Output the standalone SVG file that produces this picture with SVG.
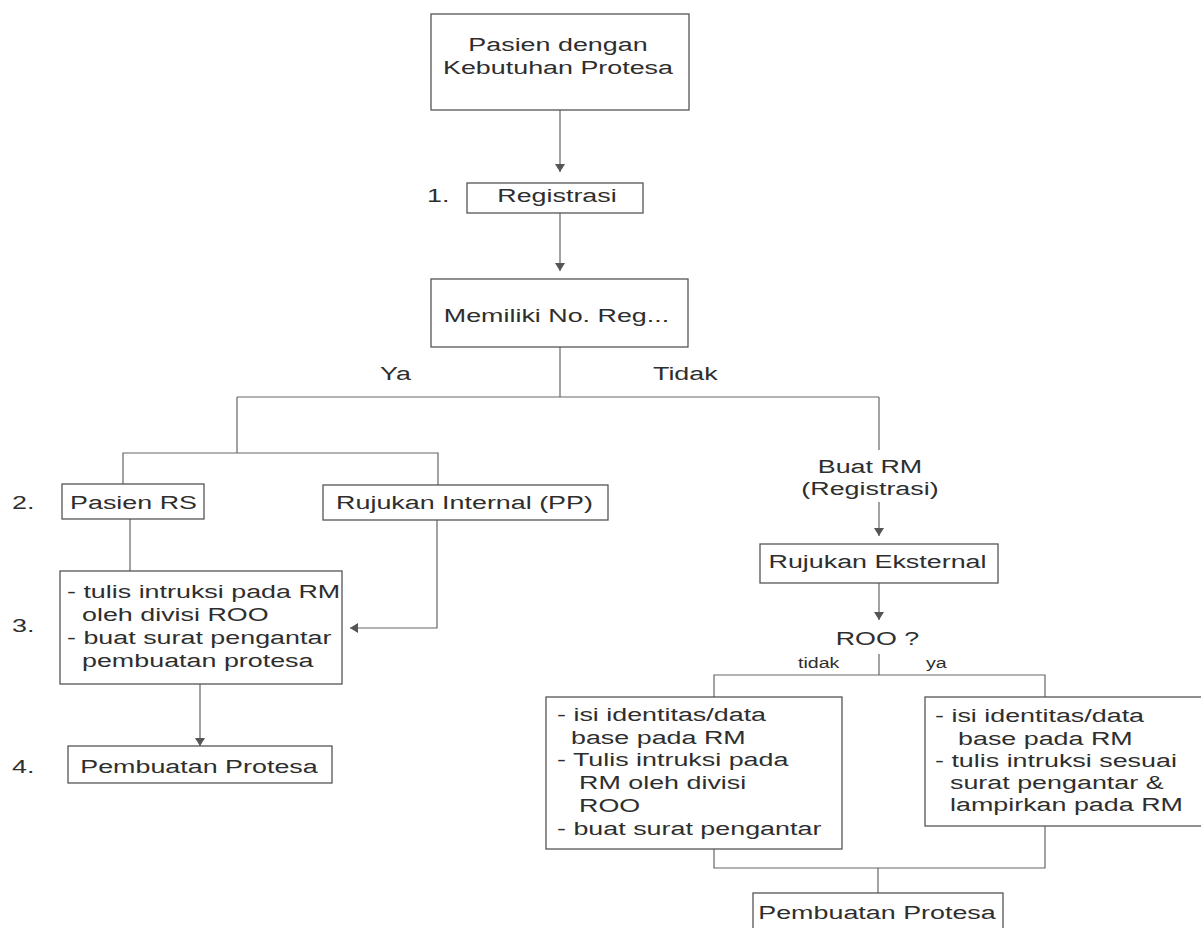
<svg xmlns="http://www.w3.org/2000/svg" width="1201" height="928" viewBox="0 0 1201 928">
<style>
.box{fill:none;stroke:#555;stroke-width:1.3}
.ln{fill:none;stroke:#666;stroke-width:1.2}
.t{font-family:"Liberation Sans",Arial,sans-serif;font-size:19.2px;fill:#2e2e2e}
.m{text-anchor:middle}
.s{font-size:14px}
</style>
<defs>
<marker id="ah" viewBox="0 0 8 10" refX="8" refY="5" markerWidth="8" markerHeight="10" markerUnits="userSpaceOnUse" orient="auto">
<path d="M0,0 L8,5 L0,10 z" fill="#555"/>
</marker>
</defs>
<rect width="1201" height="928" fill="#fff"/>
<g id="connectors">
<line class="ln" x1="560" y1="110" x2="560" y2="172" marker-end="url(#ah)"/>
<line class="ln" x1="560" y1="213" x2="560" y2="271" marker-end="url(#ah)"/>
<polyline class="ln" points="560,347 560,397"/>
<polyline class="ln" points="237,397 879,397"/>
<polyline class="ln" points="237,397 237,453"/>
<polyline class="ln" points="123,484 123,453 438,453 438,485"/>
<polyline class="ln" points="130,519 130,571"/>
<polyline class="ln" points="437,520 437,628 350,628" marker-end="url(#ah)"/>
<line class="ln" x1="200" y1="684" x2="200" y2="746" marker-end="url(#ah)"/>
<polyline class="ln" points="879,397 879,450"/>
<line class="ln" x1="879" y1="502" x2="879" y2="536" marker-end="url(#ah)"/>
<line class="ln" x1="879" y1="583" x2="879" y2="620" marker-end="url(#ah)"/>
<polyline class="ln" points="879,654 879,675"/>
<polyline class="ln" points="714,697 714,675 1045,675 1045,697"/>
<polyline class="ln" points="714,849 714,868 1045,868 1045,826"/>
<polyline class="ln" points="878,868 878,893"/>
<g class="t">
<text transform="scale(1.4 1)" x="271.43" y="380">Ya</text>
<text transform="scale(1.4 1)" x="466.43" y="380">Tidak</text>
<text class="s" transform="scale(1.4 1)" x="570" y="668">tidak</text>
<text class="s" transform="scale(1.4 1)" x="661.43" y="668">ya</text>
</g>
</g>
<g id="n-pasien" class="t">
<rect class="box" x="431" y="14" width="258" height="96"/>
<text class="m" transform="scale(1.4 1)" x="398.57" y="51">Pasien dengan</text>
<text class="m" transform="scale(1.4 1)" x="398.57" y="74">Kebutuhan Protesa</text>
</g>
<g id="n-registrasi" class="t">
<text transform="scale(1.4 1)" x="305" y="202">1.</text>
<rect class="box" x="467" y="183" width="176" height="30"/>
<text class="m" transform="scale(1.4 1)" x="397.86" y="202">Registrasi</text>
</g>
<g id="n-memiliki" class="t">
<rect class="box" x="431" y="279" width="257" height="68"/>
<text class="m" transform="scale(1.4 1)" x="397.5" y="322">Memiliki No. Reg...</text>
</g>
<g id="n-pasienrs" class="t">
<text transform="scale(1.4 1)" x="8.57" y="509">2.</text>
<rect class="box" x="62" y="484" width="142" height="35"/>
<text class="m" transform="scale(1.4 1)" x="95.36" y="509">Pasien RS</text>
</g>
<g id="n-rujukan-internal" class="t">
<rect class="box" x="323" y="485" width="285" height="35"/>
<text class="m" transform="scale(1.4 1)" x="331.79" y="509">Rujukan Internal (PP)</text>
</g>
<g id="n-instruksi" class="t">
<text transform="scale(1.4 1)" x="8.57" y="632">3.</text>
<rect class="box" x="60" y="571" width="282" height="113"/>
<text transform="scale(1.4 1)" x="47.86" y="598">- tulis intruksi pada RM</text>
<text transform="scale(1.4 1)" x="58.57" y="621">oleh divisi ROO</text>
<text transform="scale(1.4 1)" x="47.86" y="644">- buat surat pengantar</text>
<text transform="scale(1.4 1)" x="58.57" y="667">pembuatan protesa</text>
</g>
<g id="n-pembuatan-left" class="t">
<text transform="scale(1.4 1)" x="8.57" y="773">4.</text>
<rect class="box" x="68" y="746" width="264" height="37"/>
<text class="m" transform="scale(1.4 1)" x="142.14" y="773">Pembuatan Protesa</text>
</g>
<g id="n-buat-rm" class="t">
<text class="m" transform="scale(1.4 1)" x="621.43" y="473">Buat RM</text>
<text class="m" transform="scale(1.4 1)" x="621.43" y="495">(Registrasi)</text>
</g>
<g id="n-rujukan-eksternal" class="t">
<rect class="box" x="760" y="544" width="238" height="39"/>
<text class="m" transform="scale(1.4 1)" x="626.79" y="568">Rujukan Eksternal</text>
</g>
<g id="n-roo" class="t">
<text class="m" transform="scale(1.4 1)" x="626.79" y="645">ROO ?</text>
</g>
<g id="n-tidak-box" class="t">
<rect class="box" x="546" y="697" width="296" height="152"/>
<text transform="scale(1.4 1)" x="397.86" y="721">- isi identitas/data</text>
<text transform="scale(1.4 1)" x="407.86" y="744">base pada RM</text>
<text transform="scale(1.4 1)" x="397.86" y="766">- Tulis intruksi pada</text>
<text transform="scale(1.4 1)" x="413.57" y="789">RM oleh divisi</text>
<text transform="scale(1.4 1)" x="413.57" y="812">ROO</text>
<text transform="scale(1.4 1)" x="397.86" y="835">- buat surat pengantar</text>
</g>
<g id="n-ya-box" class="t">
<rect class="box" x="925" y="697" width="290" height="129"/>
<text transform="scale(1.4 1)" x="667.86" y="722">- isi identitas/data</text>
<text transform="scale(1.4 1)" x="684.29" y="745">base pada RM</text>
<text transform="scale(1.4 1)" x="667.86" y="767">- tulis intruksi sesuai</text>
<text transform="scale(1.4 1)" x="678.57" y="789">surat pengantar &amp;</text>
<text transform="scale(1.4 1)" x="678.57" y="811">lampirkan pada RM</text>
</g>
<g id="n-pembuatan-right" class="t">
<rect class="box" x="753" y="893" width="250" height="50"/>
<text class="m" transform="scale(1.4 1)" x="626.43" y="919">Pembuatan Protesa</text>
</g>
</svg>
